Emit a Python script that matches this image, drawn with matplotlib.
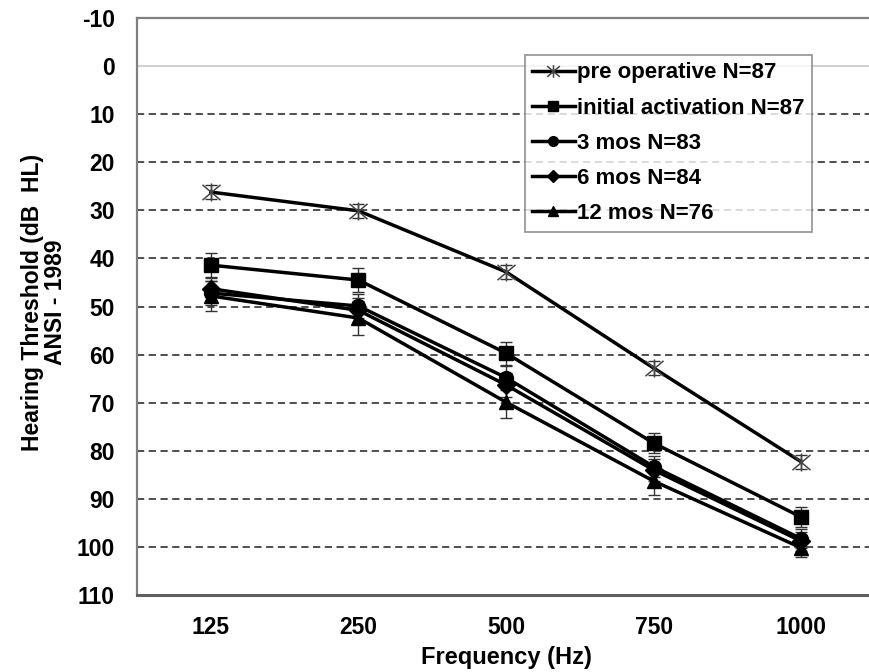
import matplotlib
matplotlib.use("Agg")
import matplotlib.pyplot as plt
from matplotlib.path import Path
import numpy as np

plt.rcParams['font.family'] = ['Liberation Sans', 'DejaVu Sans']
plt.rcParams['font.weight'] = 'bold'
plt.rcParams['axes.unicode_minus'] = False

frequencies = ["125", "250", "500", "750", "1000"]

pre_operative = [26.2, 30.1, 42.8, 62.8, 82.3]
initial_activation = [41.4, 44.5, 59.7, 78.4, 93.8]
mos_3 = [47.2, 49.9, 64.8, 83.3, 98.3]
mos_6 = [46.3, 50.8, 66.3, 84.0, 98.8]
mos_12 = [47.8, 52.4, 69.9, 86.3, 100.2]

err_pre = [1.5, 1.5, 1.5, 1.5, 1.5]
err_initial = [2.6, 2.5, 2.4, 2.1, 2.0]
err_3 = [2.5, 2.5, 2.5, 2.2, 2.0]
err_6 = [2.5, 2.5, 2.5, 2.2, 2.0]
err_12 = [3.2, 3.5, 3.2, 2.8, 2.0]

# star marker: an "x" crossed by a vertical stroke
star = Path([(-1, -0.85), (1, 0.85), (-1, 0.85), (1, -0.85), (0, -1), (0, 1)],
            [Path.MOVETO, Path.LINETO, Path.MOVETO, Path.LINETO, Path.MOVETO, Path.LINETO])

series = [
    ("pre operative N=87", pre_operative, err_pre,
     dict(marker=star, markersize=13, markeredgewidth=1.1, mec='#444444')),
    ("initial activation N=87", initial_activation, err_initial, dict(marker='s', markersize=10)),
    ("3 mos N=83", mos_3, err_3, dict(marker='o', markersize=10)),
    ("6 mos N=84", mos_6, err_6, dict(marker='D', markersize=9)),
    ("12 mos N=76", mos_12, err_12, dict(marker='^', markersize=10)),
]

fig = plt.figure(figsize=(8.69, 6.72), dpi=100)
W, H = 869, 672
ax = fig.add_axes([137 / W, 1 - 595 / H, 738 / W, (595 - 18) / H])

x = np.arange(len(frequencies))

# horizontal reference lines
ax.axhline(0, color='#c8c8c8', lw=1.2, zorder=1)
for yv in range(10, 101, 10):
    ax.axhline(yv, color='#404040', lw=1.3, ls=(0, (4, 2.5)), zorder=1)

handles = []
for label, vals, err, style in series:
    ax.errorbar(x, vals, yerr=err, fmt='none', ecolor='#333333',
                elinewidth=1.0, capsize=4, capthick=1.0, zorder=2)
    h, = ax.plot(x, vals, color='black', lw=2.5, mfc='black', mec=style.pop('mec', 'black'),
                 label=label, zorder=3, **style)
    handles.append(h)

ax.set_xlim(-0.5, 4.5)
ax.set_ylim(110, -10)
ax.set_yticks(range(-10, 111, 10))
ax.set_xticks(x)
ax.set_xticklabels(frequencies)
ax.tick_params(axis='both', length=0, labelsize=16.5)
ax.tick_params(axis='y', pad=16)
ax.tick_params(axis='x', pad=15)

for side in ['left', 'bottom', 'top', 'right']:
    ax.spines[side].set_color('#808080')
    ax.spines[side].set_linewidth(1.6)
ax.spines['bottom'].set_color('#606060')
ax.spines['bottom'].set_linewidth(2.2)

ax.set_xlabel("Frequency (Hz)", fontsize=17, fontweight='bold', labelpad=5)
fig.text(44 / W, 1 - 302 / H, "Hearing Threshold (dB  HL)\nANSI - 1989", rotation=90,
         ha='center', va='center', fontsize=16.5, fontweight='bold', linespacing=1.0)

leg = ax.legend(handles=handles, loc='upper left',
                bbox_to_anchor=(525 / W, 1 - 55 / H), bbox_transform=fig.transFigure,
                fontsize=16, frameon=True, fancybox=False, edgecolor='#808080',
                handlelength=1.9, handletextpad=0.1, labelspacing=0.64,
                borderpad=0.33, borderaxespad=0, markerscale=0.7)
leg.get_frame().set_linewidth(1.3)
for t in leg.get_texts():
    t.set_fontweight('bold')

fig.savefig("out.png", dpi=100)
